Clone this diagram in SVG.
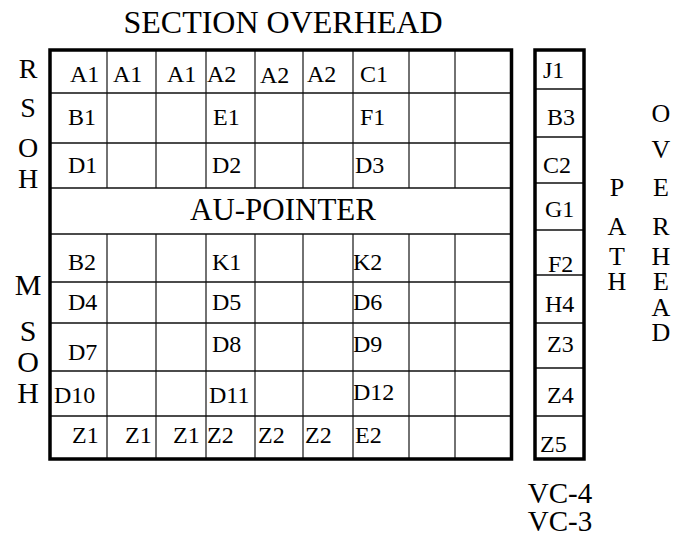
<svg xmlns="http://www.w3.org/2000/svg" width="674" height="536" viewBox="0 0 674 536" font-family="'Liberation Serif','Times New Roman','DejaVu Serif',serif">
<style>
text{font-family:"Liberation Serif","Times New Roman","DejaVu Serif",serif;fill:#000}
.c{font-size:24px}
.lab{font-size:28px;text-anchor:middle}
.big{font-size:32px;text-anchor:middle}
.vthin{stroke:#444;stroke-width:1.5;fill:none}
.hthin{stroke:#111;stroke-width:1.5;fill:none}
.thick{stroke:#000;stroke-width:3.5;fill:none}
</style>
<rect width="674" height="536" fill="#fff"/>
<text id="title" class="big" x="283" y="33">SECTION OVERHEAD</text>
<g id="grid">
<path class="vthin" d="M107 50V188M156 50V188M206 50V188M255 50V188M303 50V188M353 50V188M409 50V188M455 50V188"/>
<path class="vthin" d="M107 234V459M156 234V459M206 234V459M255 234V459M303 234V459M353 234V459M409 234V459M455 234V459"/>
<path class="hthin" d="M50 93H512M50 143H512M50 188H512M50 234H512M50 282H512M50 323H512M50 371H512M50 416H512"/>
<rect class="thick" x="50" y="50" width="461.5" height="409"/>
</g>
<g id="cells" class="c">
<text x="70" y="82">A1</text><text x="113" y="82">A1</text><text x="167" y="82">A1</text><text x="207" y="82">A2</text><text x="260" y="83">A2</text><text x="307" y="82">A2</text><text x="360" y="82">C1</text>
<text x="68" y="125">B1</text><text x="213" y="125">E1</text><text x="360" y="125">F1</text>
<text x="68" y="173">D1</text><text x="212" y="173">D2</text><text x="355" y="173">D3</text>
<text x="68" y="270">B2</text><text x="212" y="270">K1</text><text x="353" y="270">K2</text>
<text x="68" y="310">D4</text><text x="212" y="310">D5</text><text x="353" y="310">D6</text>
<text x="68" y="360">D7</text><text x="212" y="352">D8</text><text x="353" y="352">D9</text>
<text x="54" y="403">D10</text><text x="209" y="403">D11</text><text x="353" y="400">D12</text>
<text x="72" y="443">Z1</text><text x="125" y="443">Z1</text><text x="173" y="443">Z1</text><text x="207" y="443">Z2</text><text x="258" y="443">Z2</text><text x="305" y="443">Z2</text><text x="355" y="443">E2</text>
</g>
<text id="au-pointer" class="big" style="font-size:31px" x="283" y="220">AU-POINTER</text>
<g id="rsoh" class="lab">
<text x="28" y="78">R</text><text x="28" y="117">S</text><text x="28" y="157">O</text><text x="28" y="188">H</text>
</g>
<g id="msoh" class="lab" style="font-size:30px">
<text x="28" y="295">M</text><text x="28" y="341">S</text><text x="28" y="372">O</text><text x="28" y="403">H</text>
</g>
<g id="poh-column">
<path class="hthin" d="M535 89H584M535 137H584M535 183H584M535 230H584M535 275H584M535 323H584M535 368H584M535 416H584"/>
<rect class="thick" x="535" y="50" width="49" height="409"/>
<g class="c">
<text x="543" y="78">J1</text><text x="547" y="125">B3</text><text x="543" y="173">C2</text><text x="545" y="217">G1</text><text x="548" y="272">F2</text><text x="545" y="312">H4</text><text x="547" y="352">Z3</text><text x="547" y="403">Z4</text><text x="540" y="452">Z5</text>
</g>
</g>
<g id="path-label" class="lab" style="font-size:26px">
<text x="617" y="196">P</text><text x="617" y="235">A</text><text x="617" y="265">T</text><text x="617" y="290">H</text>
</g>
<g id="overhead-label" class="lab" style="font-size:26px">
<text x="661" y="122">O</text><text x="661" y="158">V</text><text x="661" y="196">E</text><text x="661" y="235">R</text><text x="661" y="265">H</text><text x="661" y="290">E</text><text x="661" y="316">A</text><text x="661" y="341">D</text>
</g>
<g id="vc-label" class="lab" style="font-size:29px">
<text x="560" y="503">VC-4</text><text x="560" y="531">VC-3</text>
</g>
</svg>
